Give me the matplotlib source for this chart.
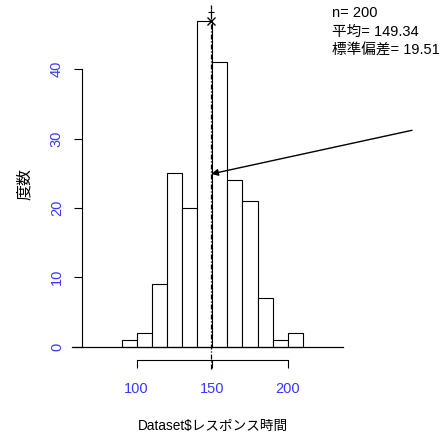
import matplotlib
matplotlib.use("Agg")
import matplotlib.pyplot as plt

plt.rcParams['font.family'] = ['Liberation Sans', 'Noto Sans CJK JP', 'DejaVu Sans']

# ---- data ----
bin_edges = [90, 100, 110, 120, 130, 140, 150, 160, 170, 180, 190, 200, 210]
counts = [1, 2, 9, 25, 20, 47, 41, 24, 21, 7, 1, 2]
x_ticks = [100, 150, 200]
y_ticks = [0, 10, 20, 30, 40]
n_obs = 200
mean_val = 149.34
sd_val = 19.51
xlabel = "Dataset$レスポンス時間"
ylabel = "度数"
stats_lines = [f"n= {n_obs}", f"平均= {mean_val:.2f}", f"標準偏差= {sd_val:.2f}"]

W, H = 441, 438
fig = plt.figure(figsize=(W / 100, H / 100), dpi=100)
ax = fig.add_axes([0, 0, 1, 1])
ax.set_facecolor('white')

ax.set_xlim(9.5, 301.5)
ax.set_ylim(-13.2, 50.0)

tick_blue = '#3838ff'
fs = 10.5

widths = [b - a for a, b in zip(bin_edges[:-1], bin_edges[1:])]
ax.bar(bin_edges[:-1], counts, width=widths, align='edge',
       facecolor='white', edgecolor='black', linewidth=0.8, zorder=2)

# baseline
ax.plot([57.2, 236.6], [0, 0], color='black', lw=0.9, zorder=3)

# spines (R style)
for s in ['top', 'right']:
    ax.spines[s].set_visible(False)
ax.spines['left'].set_position(('data', 63.8))
ax.spines['left'].set_bounds(y_ticks[0], y_ticks[-1])
ax.spines['bottom'].set_position(('data', -1.95))
ax.spines['bottom'].set_bounds(x_ticks[0], x_ticks[-1])
for s in ['left', 'bottom']:
    ax.spines[s].set_linewidth(0.8)

ax.set_xticks(x_ticks)
ax.set_yticks(y_ticks)
ax.tick_params(axis='x', direction='out', length=6, width=0.8, pad=10,
               labelsize=fs, labelcolor=tick_blue)
ax.tick_params(axis='y', direction='out', length=6, width=0.8, pad=7,
               labelsize=fs, labelcolor=tick_blue, labelrotation=90)
for lbl in ax.get_yticklabels():
    lbl.set_verticalalignment('center')

# mean line
ax.plot([mean_val, mean_val], [-3.25, 49.3], color='black', lw=0.9,
        linestyle=(0, (4, 1.5, 1, 1.5)), zorder=4)
ax.plot([mean_val], [max(counts)], marker='x', color='black', ms=6, mew=1.0, zorder=5)
ax.plot([mean_val], [48.3], marker='+', color='black', ms=5, mew=0.8, zorder=5)

# arrow
ax.annotate('', xy=(mean_val, 24.9), xytext=(282.3, 31.2),
            arrowprops=dict(arrowstyle='-|>', color='black', lw=1.0,
                            mutation_scale=10, shrinkA=0, shrinkB=0), zorder=6)

# stats text
for i, line in enumerate(stats_lines):
    fig.text(332 / W, 1 - (17 + 19 * i) / H, line, fontsize=fs,
             ha='left', va='baseline', color='black')

fig.text(212.5 / W, 1 - 426 / H, xlabel, fontsize=9.8, ha='center', va='center')
fig.text(24 / W, 1 - 184 / H, ylabel, fontsize=11.5, ha='center', va='center', rotation=90)

fig.savefig('out.png', dpi=100, facecolor='white')
